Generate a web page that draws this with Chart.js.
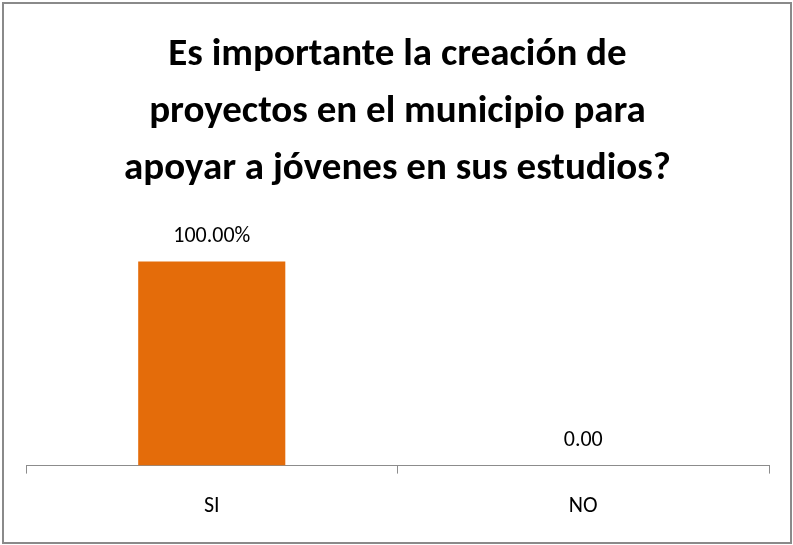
<!DOCTYPE html>
<html>
<head>
<meta charset="utf-8">
<script src="https://cdn.jsdelivr.net/npm/chart.js@4.4.0/dist/chart.umd.min.js"></script>
<style>
  html, body { margin: 0; padding: 0; background: #fff; }
  #wrap { position: absolute; left: 0; top: 0; width: 793px; height: 545px; }
  #frame { position: absolute; left: 2px; top: 2px; width: 786px; height: 538px; border: 2px solid #8a8a8a; box-sizing: content-box; pointer-events: none; }
  canvas { position: absolute; left: 0; top: 0; }
</style>
</head>
<body>
<div id="wrap">
  <canvas id="c" width="793" height="545"></canvas>
  <div id="frame"></div>
</div>
<script>
const titleLines = ["Es importante la creación de", "proyectos en el municipio para", "apoyar a jóvenes en sus estudios?"];
const categories = ["SI", "NO"];
const values = [100, 0];
const valueLabels = ["100.00%", "0.00"];
const yMin = 0;
const yMax = 120;

const FONT = "Carlito, 'Liberation Sans Narrow', 'Open Sans', sans-serif";

const labelPlugin = {
  id: 'valueLabels',
  afterDatasetsDraw(chart) {
    const ctx = chart.ctx;
    const meta = chart.getDatasetMeta(0);
    ctx.save();
    ctx.fillStyle = '#000';
    ctx.font = "22px " + FONT;
    ctx.textAlign = 'center';
    ctx.textBaseline = 'middle';
    meta.data.forEach((bar, i) => {
      ctx.fillText(valueLabels[i], bar.x, bar.y - 25);
    });
    ctx.restore();
  }
};

new Chart(document.getElementById('c'), {
  type: 'bar',
  data: {
    labels: categories,
    datasets: [{
      data: values,
      backgroundColor: '#E46C0A',
      borderWidth: 0,
      categoryPercentage: 0.4,
      barPercentage: 0.99
    }]
  },
  options: {
    responsive: false,
    animation: false,
    layout: { padding: { left: 26, right: 24, top: 14, bottom: 5 } },
    plugins: {
      legend: { display: false },
      tooltip: { enabled: false },
      title: {
        display: true,
        text: titleLines,
        color: '#000',
        font: { family: FONT, size: 39, weight: 'bold', lineHeight: 1.46 },
        padding: { top: 13, bottom: 23 }
      }
    },
    scales: {
      y: { display: false, min: yMin, max: yMax },
      x: {
        grid: {
          display: true,
          offset: true,
          drawOnChartArea: false,
          drawTicks: true,
          tickLength: 8,
          color: '#8c8c8c'
        },
        border: { display: true, color: '#8c8c8c', width: 1 },
        ticks: {
          color: '#000',
          padding: 20,
          font: { family: FONT, size: 22 }
        }
      }
    }
  },
  plugins: [labelPlugin]
});
</script>
</body>
</html>
